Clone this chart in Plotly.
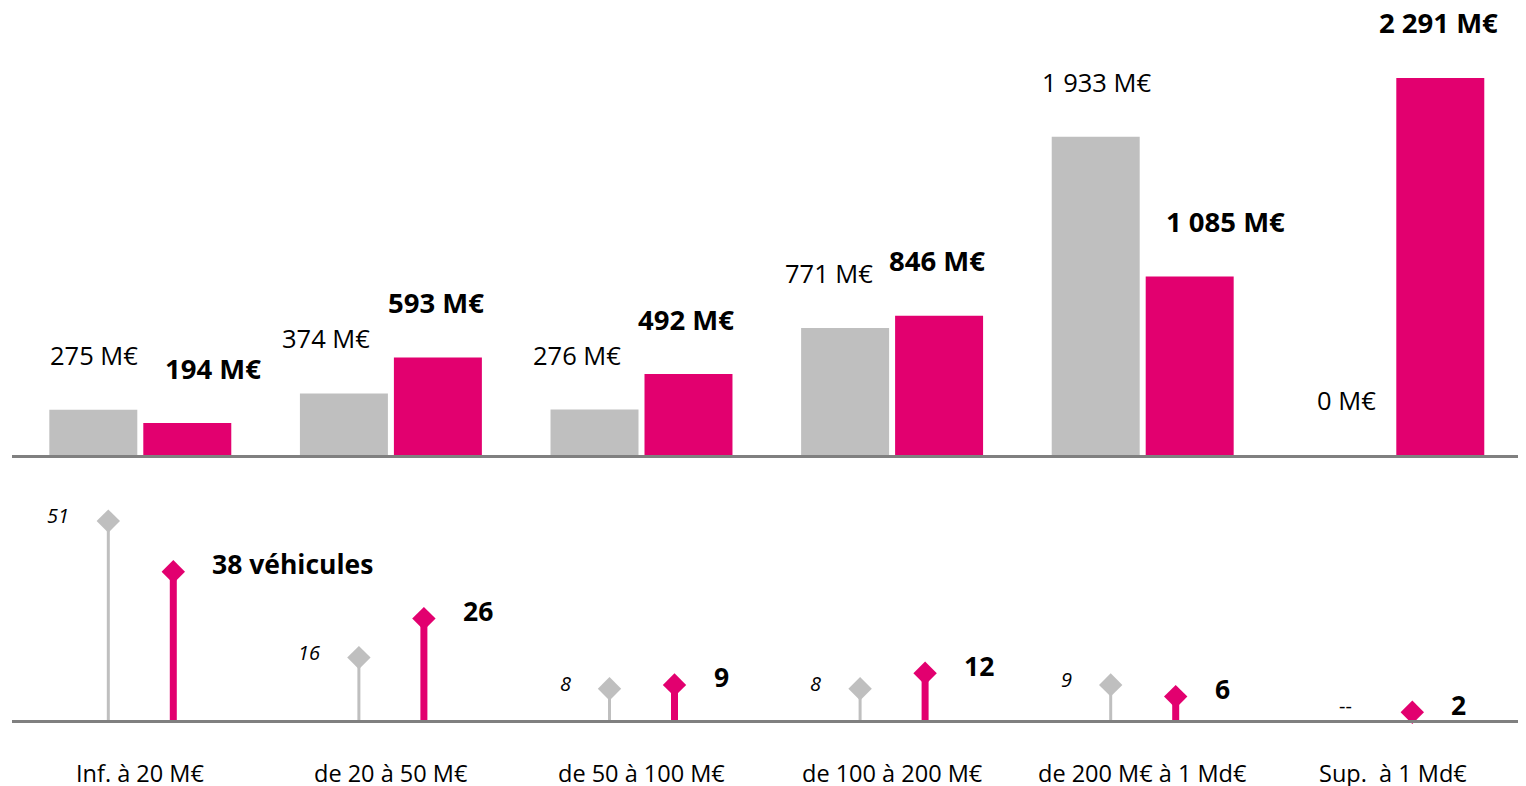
import plotly.graph_objects as go

# ---------------- data ----------------
categories = ["Inf. à 20 M€", "de 20 à 50 M€", "de 50 à 100 M€",
              "de 100 à 200 M€", "de 200 M€ à 1 Md€", "Sup.\u00a0 à 1 Md€"]
montants_prec = [275, 374, 276, 771, 1933, 0]        # grey bars (M€)
montants_act = [194, 593, 492, 846, 1085, 2291]      # pink bars (M€)
vehicules_prec = [51, 16, 8, 8, 9, None]             # grey lollipops
vehicules_act = [38, 26, 9, 12, 6, 2]                # pink lollipops
vehicules_act_suffix = [" véhicules", "", "", "", "", ""]
missing_label = "--"

# ---------------- styles / geometry ----------------
GREY = "#BFBFBF"
PINK = "#E2006F"
AXIS = "#808080"
FONT = "Open Sans"
PAGE_OFF = 8                      # default body margin of the html page
W, H = 1526 - PAGE_OFF, 786 - PAGE_OFF
PX_PER_CAT = 250.6
CAT0_PX = 140.3 - PAGE_OFF
PLOT_X0, PLOT_X1 = 12 - PAGE_OFF, 1521 - PAGE_OFF
TOP_BASE_PX = 455 - PAGE_OFF
BOT_BASE_PX = 720 - PAGE_OFF
BOT_TOP_PX = 470 - PAGE_OFF
CAT_LABEL_PX = 773 - PAGE_OFF
TOP_PX_PER_UNIT = 0.1646
BOT_PX_PER_UNIT = 3.9
BARGAP = 0.25
BARGROUPGAP = 0.0638
SLOT = (1 - BARGAP) / 2
GREY_LOLLI_OFF = -32 / PX_PER_CAT
PINK_LOLLI_OFF = 33 / PX_PER_CAT
pink_lolli_nudge_px = [0, 0, 0, 0, 0, -14]
grey_label_xshift = [1, -18, -18, -16, 1, 0]
pink_label_xshift = [26, -2, -2, -2, 36, -2]

idx = list(range(len(categories)))


def fmt(v):
    return f"{v:,}".replace(",", " ") + " M€"


fig = go.Figure()

# bars
fig.add_trace(go.Bar(x=idx, y=montants_prec, marker=dict(color=GREY, line=dict(width=0)),
                     xaxis="x", yaxis="y", hoverinfo="skip"))
fig.add_trace(go.Bar(x=idx, y=montants_act, marker=dict(color=PINK, line=dict(width=0)),
                     xaxis="x", yaxis="y", hoverinfo="skip"))

# lollipop stems
gx, gy, gmx, gmy = [], [], [], []
for i, v in zip(idx, vehicules_prec):
    if v is None:
        continue
    xx = i + GREY_LOLLI_OFF
    gx += [xx, xx, None]
    gy += [0, v, None]
    gmx.append(xx)
    gmy.append(v)
px_, py_, pmx, pmy = [], [], [], []
for i, v, n in zip(idx, vehicules_act, pink_lolli_nudge_px):
    xx = i + PINK_LOLLI_OFF + n / PX_PER_CAT
    px_ += [xx, xx, None]
    py_ += [0, v, None]
    pmx.append(xx)
    pmy.append(v)

fig.add_trace(go.Scatter(x=gx, y=gy, mode="lines", line=dict(color=GREY, width=3),
                         xaxis="x2", yaxis="y2", hoverinfo="skip"))
fig.add_trace(go.Scatter(x=px_, y=py_, mode="lines", line=dict(color=PINK, width=7),
                         xaxis="x2", yaxis="y2", hoverinfo="skip"))
fig.add_trace(go.Scatter(x=gmx, y=gmy, mode="markers",
                         marker=dict(symbol="diamond", size=18, color=GREY, line=dict(width=0)),
                         xaxis="x2", yaxis="y2", cliponaxis=False, hoverinfo="skip"))
fig.add_trace(go.Scatter(x=pmx, y=pmy, mode="markers",
                         marker=dict(symbol="diamond", size=18, color=PINK, line=dict(width=0)),
                         xaxis="x2", yaxis="y2", cliponaxis=False, hoverinfo="skip"))

ann = []
# bar labels
for i, v, s in zip(idx, montants_prec, grey_label_xshift):
    ann.append(dict(x=i - SLOT / 2, y=v, xref="x", yref="y", text=fmt(v), showarrow=False,
                    yshift=55, xshift=s, xanchor="center", yanchor="middle",
                    font=dict(family=FONT, size=25.5, color="#000000")))
for i, v, s in zip(idx, montants_act, pink_label_xshift):
    ann.append(dict(x=i + SLOT / 2, y=v, xref="x", yref="y", text=fmt(v), showarrow=False,
                    yshift=55, xshift=s, xanchor="center", yanchor="middle",
                    font=dict(family=FONT, size=27.5, color="#000000", weight=700)))
# lollipop labels
for i, v in zip(idx, vehicules_prec):
    if v is None:
        ann.append(dict(x=i + GREY_LOLLI_OFF, y=0, xref="x2", yref="y2", text=missing_label,
                        showarrow=False, xanchor="right", yanchor="middle", xshift=-7, yshift=15,
                        font=dict(family=FONT, size=20, color="#000000")))
    else:
        ann.append(dict(x=i + GREY_LOLLI_OFF, y=v, xref="x2", yref="y2", text=str(v),
                        showarrow=False, xanchor="right", yanchor="middle", xshift=-37, yshift=5.5,
                        font=dict(family=FONT, size=20, color="#000000", style="italic")))
for i, v, suf, n in zip(idx, vehicules_act, vehicules_act_suffix, pink_lolli_nudge_px):
    ann.append(dict(x=i + PINK_LOLLI_OFF + n / PX_PER_CAT, y=v, xref="x2", yref="y2",
                    text=f"{v}{suf}", showarrow=False, xanchor="left", yanchor="middle",
                    xshift=37, yshift=7.5,
                    font=dict(family=FONT, size=26.5, color="#000000", weight=700)))
# category labels
for i, c in zip(idx, categories):
    ann.append(dict(x=i, y=1 - CAT_LABEL_PX / H, xref="x2", yref="paper", text=c, showarrow=False,
                    xanchor="center", yanchor="middle",
                    font=dict(family=FONT, size=23.5, color="#000000")))

xr = [(PLOT_X0 - CAT0_PX) / PX_PER_CAT, (PLOT_X1 - CAT0_PX) / PX_PER_CAT]
xdom = [PLOT_X0 / W, PLOT_X1 / W]
xax = dict(domain=xdom, range=xr, showline=True, linecolor=AXIS, linewidth=3,
           showgrid=False, zeroline=False, showticklabels=False, ticks="", fixedrange=True)

fig.update_layout(
    width=W, height=H,
    margin=dict(l=0, r=0, t=0, b=0),
    paper_bgcolor="white", plot_bgcolor="white",
    showlegend=False,
    barmode="group", bargap=BARGAP, bargroupgap=BARGROUPGAP,
    xaxis=dict(**xax, anchor="y"),
    xaxis2=dict(**xax, anchor="y2", matches="x"),
    yaxis=dict(domain=[1 - TOP_BASE_PX / H, 1], range=[0, TOP_BASE_PX / TOP_PX_PER_UNIT],
               visible=False, fixedrange=True),
    yaxis2=dict(domain=[1 - BOT_BASE_PX / H, 1 - BOT_TOP_PX / H],
                range=[0, (BOT_BASE_PX - BOT_TOP_PX) / BOT_PX_PER_UNIT],
                visible=False, fixedrange=True),
    annotations=ann,
)

fig.write_html("out.html")
